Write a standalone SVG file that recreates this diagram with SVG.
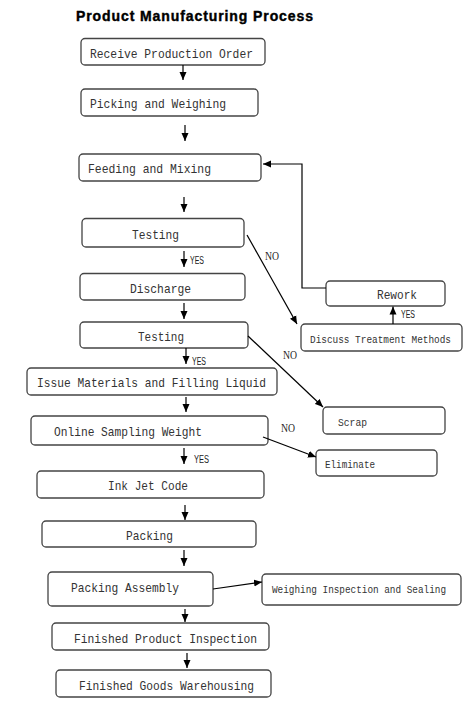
<svg xmlns="http://www.w3.org/2000/svg" width="474" height="712" viewBox="0 0 474 712">
<style>
.box{fill:#fff;stroke:#444;stroke-width:1.3}
.t{font-family:"Liberation Mono",monospace;font-size:13.5px;fill:#333}
.s{font-family:"Liberation Mono",monospace;font-size:11px;fill:#333}
.lbl{font-family:"Liberation Sans",sans-serif;font-size:10px;fill:#222}
.no{font-family:"Liberation Serif",serif;font-size:12px;fill:#222}
.ln{fill:none;stroke:#000;stroke-width:1.2}
</style>
<defs>
<marker id="ah" markerUnits="userSpaceOnUse" markerWidth="8" markerHeight="8" refX="8" refY="4" orient="auto">
<path d="M0,0.5 L8,4 L0,7.5 z" fill="#000"/>
</marker>
</defs>
<rect width="474" height="712" fill="#fff"/>
<text x="76" y="21" font-family="Liberation Sans,sans-serif" font-size="14" font-weight="bold" fill="#000" stroke="#000" stroke-width="0.4" textLength="237" lengthAdjust="spacing">Product Manufacturing Process</text>

<g id="n1"><rect class="box" x="81" y="38.5" width="184" height="26.5" rx="4"/><text class="t" x="90" y="57.5" textLength="163" lengthAdjust="spacingAndGlyphs">Receive Production Order</text></g>
<g id="n2"><rect class="box" x="81" y="89" width="177" height="27" rx="4"/><text class="t" x="90" y="108" textLength="136" lengthAdjust="spacingAndGlyphs">Picking and Weighing</text></g>
<g id="n3"><rect class="box" x="79" y="154" width="182" height="27" rx="4"/><text class="t" x="88" y="173" textLength="123" lengthAdjust="spacingAndGlyphs">Feeding and Mixing</text></g>
<g id="n4"><rect class="box" x="82" y="218.5" width="162" height="28.5" rx="4"/><text class="t" x="132" y="238.5" textLength="47" lengthAdjust="spacingAndGlyphs">Testing</text></g>
<g id="n5"><rect class="box" x="80" y="273.5" width="165" height="26.5" rx="4"/><text class="t" x="130" y="292.5" textLength="61" lengthAdjust="spacingAndGlyphs">Discharge</text></g>
<g id="n6"><rect class="box" x="80" y="322" width="168" height="26" rx="4"/><text class="t" x="138" y="341" textLength="46" lengthAdjust="spacingAndGlyphs">Testing</text></g>
<g id="n7"><rect class="box" x="27" y="368" width="250" height="27" rx="4"/><text class="t" x="37" y="387" textLength="229" lengthAdjust="spacingAndGlyphs">Issue Materials and Filling Liquid</text></g>
<g id="n8"><rect class="box" x="31" y="416" width="237" height="29" rx="4"/><text class="t" x="54" y="435.5" textLength="148" lengthAdjust="spacingAndGlyphs">Online Sampling Weight</text></g>
<g id="n9"><rect class="box" x="37" y="471" width="227" height="27" rx="4"/><text class="t" x="108" y="490" textLength="80" lengthAdjust="spacingAndGlyphs">Ink Jet Code</text></g>
<g id="n10"><rect class="box" x="42" y="521" width="214" height="26" rx="4"/><text class="t" x="126" y="540" textLength="47" lengthAdjust="spacingAndGlyphs">Packing</text></g>
<g id="n11"><rect class="box" x="48" y="572" width="165" height="34" rx="4"/><text class="t" x="71" y="592" textLength="108" lengthAdjust="spacingAndGlyphs">Packing Assembly</text></g>
<g id="n12"><rect class="box" x="52" y="623" width="217" height="27" rx="4"/><text class="t" x="74" y="642.5" textLength="183" lengthAdjust="spacingAndGlyphs">Finished Product Inspection</text></g>
<g id="n13"><rect class="box" x="56" y="670" width="215" height="27" rx="4"/><text class="t" x="79" y="689.5" textLength="175" lengthAdjust="spacingAndGlyphs">Finished Goods Warehousing</text></g>
<g id="n14"><rect class="box" x="326" y="281" width="119" height="25" rx="4"/><text class="t" x="377" y="299" textLength="40" lengthAdjust="spacingAndGlyphs">Rework</text></g>
<g id="n15"><rect class="box" x="301" y="324" width="161" height="27" rx="4"/><text class="s" x="310" y="343" textLength="141" lengthAdjust="spacingAndGlyphs">Discuss Treatment Methods</text></g>
<g id="n16"><rect class="box" x="323" y="407" width="122" height="27" rx="4"/><text class="s" x="338" y="426" textLength="29" lengthAdjust="spacingAndGlyphs">Scrap</text></g>
<g id="n17"><rect class="box" x="316" y="450" width="121" height="26" rx="4"/><text class="s" x="325" y="468" textLength="50" lengthAdjust="spacingAndGlyphs">Eliminate</text></g>
<g id="n18"><rect class="box" x="262" y="574" width="199" height="31" rx="4"/><text class="s" x="272" y="593" font-size="10" style="font-size:10px" textLength="174" lengthAdjust="spacingAndGlyphs">Weighing Inspection and Sealing</text></g>

<g id="connectors">
<line class="ln" x1="183" y1="65" x2="183" y2="80" marker-end="url(#ah)"/>
<line class="ln" x1="185" y1="125" x2="185" y2="141" marker-end="url(#ah)"/>
<line class="ln" x1="184" y1="197" x2="184" y2="212" marker-end="url(#ah)"/>
<line class="ln" x1="184" y1="251" x2="184" y2="267" marker-end="url(#ah)"/>
<line class="ln" x1="184" y1="303" x2="184" y2="319" marker-end="url(#ah)"/>
<line class="ln" x1="186" y1="348" x2="186" y2="364" marker-end="url(#ah)"/>
<line class="ln" x1="186" y1="397" x2="186" y2="412" marker-end="url(#ah)"/>
<line class="ln" x1="184" y1="448" x2="184" y2="464" marker-end="url(#ah)"/>
<line class="ln" x1="185" y1="505" x2="185" y2="520" marker-end="url(#ah)"/>
<line class="ln" x1="184" y1="550" x2="184" y2="566" marker-end="url(#ah)"/>
<line class="ln" x1="185" y1="609" x2="185" y2="622" marker-end="url(#ah)"/>
<line class="ln" x1="187" y1="653" x2="187" y2="668" marker-end="url(#ah)"/>
<polyline class="ln" points="326,288 302,288 302,164 263,164" marker-end="url(#ah)"/>
<line class="ln" x1="393" y1="324" x2="393" y2="306.5" marker-end="url(#ah)"/>
<line class="ln" x1="247" y1="235" x2="297" y2="324" marker-end="url(#ah)"/>
<line class="ln" x1="248" y1="336" x2="323" y2="407" marker-end="url(#ah)"/>
<line class="ln" x1="263" y1="437" x2="316" y2="457" marker-end="url(#ah)"/>
<line class="ln" x1="213" y1="589" x2="262" y2="582" marker-end="url(#ah)"/>
<text class="lbl" x="190" y="264" textLength="14" lengthAdjust="spacingAndGlyphs">YES</text>
<text class="lbl" x="401" y="318" textLength="14" lengthAdjust="spacingAndGlyphs">YES</text>
<text class="lbl" x="192" y="365" textLength="14" lengthAdjust="spacingAndGlyphs">YES</text>
<text class="lbl" x="194" y="463" textLength="15" lengthAdjust="spacingAndGlyphs">YES</text>
<text class="no" x="265" y="260" textLength="14" lengthAdjust="spacingAndGlyphs">NO</text>
<text class="no" x="283" y="359" textLength="14" lengthAdjust="spacingAndGlyphs">NO</text>
<text class="no" x="281" y="432" textLength="14" lengthAdjust="spacingAndGlyphs">NO</text>
</g>
</svg>
